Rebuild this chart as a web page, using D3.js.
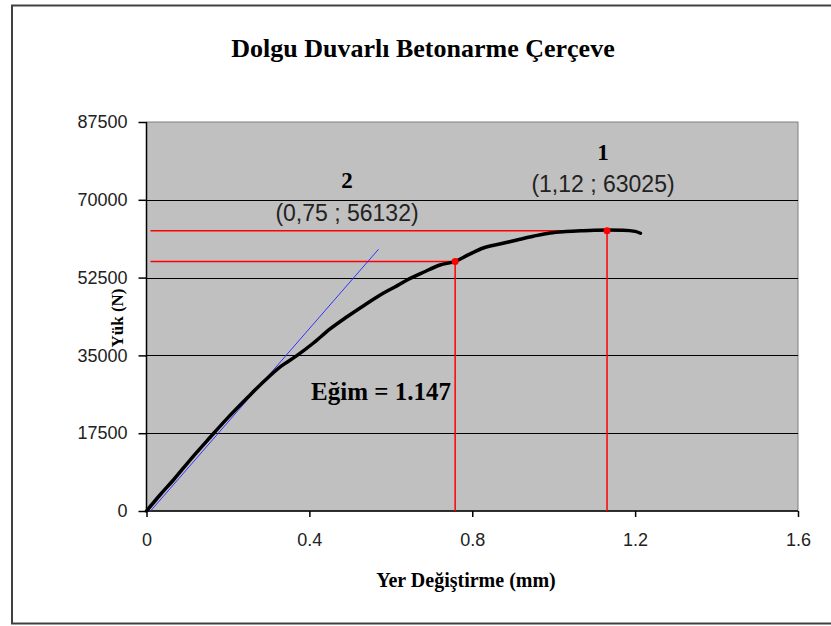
<!DOCTYPE html>
<html><head><meta charset="utf-8">
<script src="https://cdn.jsdelivr.net/npm/d3@7"></script>
<style>body{margin:0;background:#fff}svg{display:block}</style>
</head><body>
<svg id="c" width="831" height="626"></svg>
<script>
const title = "Dolgu Duvarlı Betonarme Çerçeve";
const xLabel = "Yer Değiştirme (mm)";
const yLabel = "Yük (N)";
const xTicks = [0, 0.4, 0.8, 1.2, 1.6];
const yTicks = [0, 17500, 35000, 52500, 70000, 87500];
// load-displacement curve (mm, N)
const dispX = [0, 0.033, 0.066, 0.110, 0.157, 0.200, 0.247, 0.290, 0.329, 0.370, 0.410, 0.450, 0.4925, 0.535, 0.574, 0.610, 0.640, 0.680, 0.721, 0.758, 0.790, 0.827, 0.870, 0.910, 0.950, 0.991, 1.030, 1.072, 1.100, 1.131, 1.170, 1.200, 1.213];
const loadY = [0, 3600, 6970, 11800, 16650, 21000, 25420, 29300, 32460, 35000, 37790, 40900, 43700, 46300, 48590, 50400, 51960, 53700, 55340, 56130, 57600, 59160, 60100, 60960, 61800, 62530, 62850, 63050, 63150, 63200, 63150, 62900, 62470];
// tangent (slope) line endpoints
const slopeX = [0.01, 0.57];
const slopeY = [0, 58900];
// marked points
const markX = [0.758, 1.131];
const markY = [56132, 63025];
const markNum = ["2", "1"];
const markText = ["(0,75 ; 56132)", "(1,12 ; 63025)"];
const slopeText = "Eğim = 1.147";

const svg = d3.select("#c");
const L = 146.5, R = 798, T = 122, B = 511;
const x = d3.scaleLinear().domain([0, 1.6]).range([L, R]);
const y = d3.scaleLinear().domain([0, 87500]).range([B, T]);

// outer border
svg.append("rect").attr("x", 12).attr("y", 5.5).attr("width", 830).attr("height", 618)
  .attr("fill", "#fff").attr("stroke", "#404040").attr("stroke-width", 2);

// plot area
svg.append("rect").attr("x", L).attr("y", T).attr("width", R - L).attr("height", B - T)
  .attr("fill", "#c0c0c0").attr("stroke", "#808080").attr("stroke-width", 1);

// gridlines
svg.append("g").selectAll("line").data(yTicks.filter(d => d > 0 && d < 87500)).join("line")
  .attr("x1", L).attr("x2", R).attr("y1", d => Math.round(y(d)) + 0.5).attr("y2", d => Math.round(y(d)) + 0.5)
  .attr("stroke", "#000").attr("stroke-width", 1);

// axes
const xAxis = svg.append("g").attr("transform", `translate(0,${B})`)
  .call(d3.axisBottom(x).tickValues(xTicks).tickFormat(d => d === 0 ? "0" : d3.format(".1f")(d)).tickSize(6).tickPadding(16));
const yAxis = svg.append("g").attr("transform", `translate(${L},0)`)
  .call(d3.axisLeft(y).tickValues(yTicks).tickFormat(d3.format("d")).tickSize(8).tickPadding(11));
[xAxis, yAxis].forEach(a => {
  a.select(".domain").attr("stroke", "#000").attr("stroke-width", 1.5);
  a.selectAll(".tick line").attr("stroke", "#000").attr("stroke-width", 1.5);
  a.selectAll("text").attr("font-family", "Liberation Sans, Arial, sans-serif").attr("font-size", 18).attr("fill", "#222");
});
yAxis.select(".domain").attr("d", `M0,${T}V${B}`);
xAxis.select(".domain").attr("d", `M${L},0H${R}`);

// red reference lines
markX.forEach((mx, i) => {
  const px = x(mx), py = y(markY[i]);
  svg.append("line").attr("x1", L + 4).attr("x2", px).attr("y1", py).attr("y2", py)
    .attr("stroke", "#ff0000").attr("stroke-width", 1.5);
  svg.append("line").attr("x1", px).attr("x2", px).attr("y1", py).attr("y2", B)
    .attr("stroke", "#ff0000").attr("stroke-width", 1.5);
});

// slope line
svg.append("line").attr("x1", x(slopeX[0])).attr("y1", y(slopeY[0])).attr("x2", x(slopeX[1])).attr("y2", y(slopeY[1]))
  .attr("stroke", "#3333ff").attr("stroke-width", 1);

// curve
const pts = dispX.map((d, i) => [d, loadY[i]]);
svg.append("path").datum(pts)
  .attr("d", d3.line().x(d => x(d[0])).y(d => y(d[1])).curve(d3.curveMonotoneX))
  .attr("fill", "none").attr("stroke", "#000").attr("stroke-width", 3.5).attr("stroke-linecap", "round");

// red dots
svg.append("g").selectAll("circle").data(markX).join("circle")
  .attr("cx", d => x(d)).attr("cy", (d, i) => y(markY[i])).attr("r", 3.5).attr("fill", "#ff0000");

// annotations
const serif = "Liberation Serif, Times New Roman, serif";
const sans = "Liberation Sans, Arial, sans-serif";
const numPos = [[347, 188], [603, 160]];
const txtPos = [[347, 221], [603, 192]];
markNum.forEach((t, i) => {
  svg.append("text").attr("x", numPos[i][0]).attr("y", numPos[i][1]).attr("text-anchor", "middle")
    .attr("font-family", serif).attr("font-weight", "bold").attr("font-size", 23).text(t);
  svg.append("text").attr("x", txtPos[i][0]).attr("y", txtPos[i][1]).attr("text-anchor", "middle")
    .attr("font-family", sans).attr("font-size", 23).attr("fill", "#222").text(markText[i]);
});
svg.append("text").attr("x", 381).attr("y", 400).attr("text-anchor", "middle")
  .attr("font-family", serif).attr("font-weight", "bold").attr("font-size", 25).text(slopeText);

// title and axis titles
svg.append("text").attr("x", 423).attr("y", 57).attr("text-anchor", "middle")
  .attr("font-family", serif).attr("font-weight", "bold").attr("font-size", 26).text(title);
svg.append("text").attr("x", 466).attr("y", 587).attr("text-anchor", "middle")
  .attr("font-family", serif).attr("font-weight", "bold").attr("font-size", 20).text(xLabel);
svg.append("text").attr("transform", "translate(123,318) rotate(-90)").attr("text-anchor", "middle")
  .attr("font-family", serif).attr("font-weight", "bold").attr("font-size", 17).text(yLabel);
</script>
</body></html>
